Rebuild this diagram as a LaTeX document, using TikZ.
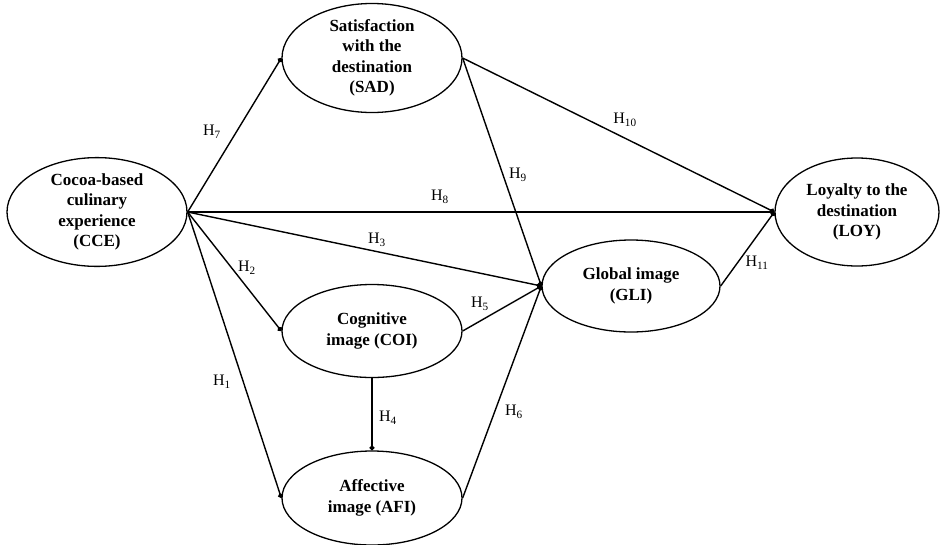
\documentclass[tikz,border=0pt]{standalone}
\usepackage{fontspec}
\setmainfont{Liberation Serif}
\usetikzlibrary{shapes.geometric,arrows.meta}
\tikzset{
  var/.style={draw, ellipse, line width=1.3pt, inner sep=0pt, align=center,
    font=\fontsize{17}{20.5}\selectfont\bfseries},
  path/.style={line width=1.4pt, -{Circle[length=5pt]}},
  hlab/.style={font=\fontsize{16}{18}\selectfont, inner sep=0pt}
}
\begin{document}
\begin{tikzpicture}[x=1pt,y=-1pt]
\useasboundingbox (0,0) rectangle (942,544);
\node[var, minimum width=180, minimum height=96] (cce) at (97,212) {Cocoa-based\\culinary\\experience\\(CCE)};
\node[var, minimum width=180, minimum height=90] (sad) at (372,58) {Satisfaction\\with the\\destination\\(SAD)};
\node[var, minimum width=180, minimum height=93] (coi) at (372,331) {Cognitive\\image (COI)};
\node[var, minimum width=180, minimum height=94] (afi) at (372,498) {Affective\\image (AFI)};
\node[var, minimum width=178, minimum height=92] (gli) at (631,286) {Global image\\(GLI)};
\node[var, minimum width=164, minimum height=108] (loy) at (857,212) {Loyalty to the\\destination\\(LOY)};

\draw[path] (cce.east) -- (sad.west);
\draw[path] (cce.east) -- (loy.west);
\draw[path] (cce.east) -- (gli.west);
\draw[path] (cce.east) -- (coi.west);
\draw[path] (cce.east) -- (afi.west);
\draw[path] (sad.east) -- (gli.west);
\draw[path] (sad.east) -- (loy.west);
\draw[path] (coi.east) -- (gli.west);
\draw[path] (afi.east) -- (gli.west);
\draw[path] (coi.south) -- (afi.north);
\draw[path] (gli.east) -- (loy.west);

\node[hlab] (h7) at (212,132) {H\textsubscript{7}};
\node[hlab] (h8) at (440,197) {H\textsubscript{8}};
\node[hlab] (h9) at (518,175) {H\textsubscript{9}};
\node[hlab] (h10) at (625,120) {H\textsubscript{10}};
\node[hlab] (h3) at (377,240) {H\textsubscript{3}};
\node[hlab] (h2) at (247,268) {H\textsubscript{2}};
\node[hlab] (h1) at (222,382) {H\textsubscript{1}};
\node[hlab] (h5) at (480,304) {H\textsubscript{5}};
\node[hlab] (h4) at (388,418) {H\textsubscript{4}};
\node[hlab] (h6) at (514,412) {H\textsubscript{6}};
\node[hlab] (h11) at (757,263) {H\textsubscript{11}};
\end{tikzpicture}
\end{document}
